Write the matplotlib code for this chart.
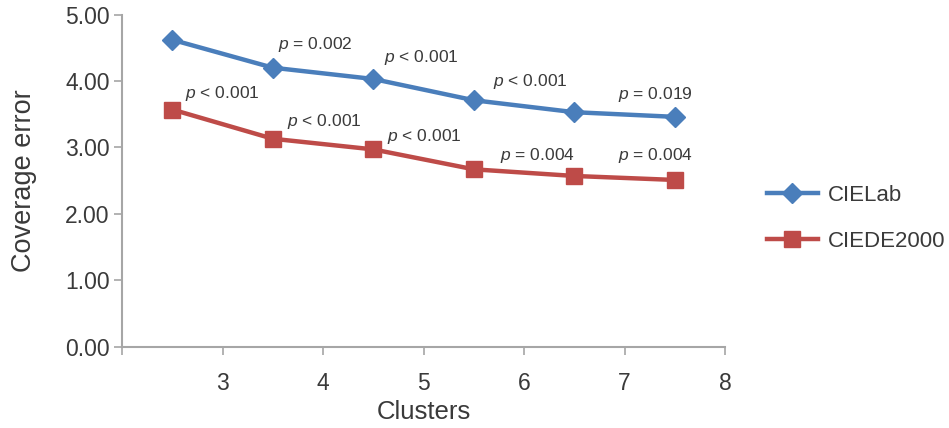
import matplotlib
matplotlib.use('Agg')
from matplotlib import pyplot as plt

clusters = [2.5, 3.5, 4.5, 5.5, 6.5, 7.5]
cielab = [4.62, 4.20, 4.03, 3.71, 3.53, 3.46]
ciede2000 = [3.57, 3.13, 2.97, 2.67, 2.57, 2.51]

# p-value labels: (index into series, text)
cielab_p = [(1, '= 0.002'), (2, '< 0.001'), (3, '< 0.001'), (5, '= 0.019')]
ciede_p = [(0, '< 0.001'), (1, '< 0.001'), (2, '< 0.001'), (4, '= 0.004'), (5, '= 0.004')]
# label offsets in pixels (left edge / center, above the point)
cielab_off = [(5, 23, 'left'), (11, 21, 'left'), (19, 19, 'left'), (-19, 22, 'center')]
ciede_off = [(13, 16, 'left'), (14, 17, 'left'), (14, 13, 'left'), (-37, 20, 'center'), (-19, 24, 'center')]

plt.rcParams['font.family'] = ['Liberation Sans', 'DejaVu Sans']
plt.rcParams['mathtext.fontset'] = 'custom'
plt.rcParams['mathtext.it'] = 'Liberation Sans:italic'
plt.rcParams['mathtext.rm'] = 'Liberation Sans'

txt = '#3a3a3a'
axc = '#a6a6a6'
blue = '#4a7ebb'
red = '#be4b48'

fig = plt.figure(figsize=(9.49, 4.28), dpi=100)
ax = fig.add_axes([0.1286, 0.19, 0.6354, 0.776])

l1, = ax.plot(clusters, cielab, color=blue, lw=3.2, marker='D', ms=10, label='CIELab')
l2, = ax.plot(clusters, ciede2000, color=red, lw=3.2, marker='s', ms=12, label='CIEDE2000')

for (i, s), (dx, dy, ha) in zip(cielab_p, cielab_off):
    ax.annotate('$p$ ' + s, xy=(clusters[i], cielab[i]), xytext=(dx, dy),
                textcoords='offset pixels', ha=ha, va='center', fontsize=12.5, color=txt)
for (i, s), (dx, dy, ha) in zip(ciede_p, ciede_off):
    ax.annotate('$p$ ' + s, xy=(clusters[i], ciede2000[i]), xytext=(dx, dy),
                textcoords='offset pixels', ha=ha, va='center', fontsize=12.5, color=txt)

ax.set_xlim(2, 8)
ax.set_ylim(0, 5)
ax.set_xticks([2, 3, 4, 5, 6, 7, 8])
ax.set_xticklabels(['', '3', '4', '5', '6', '7', '8'])
ax.set_yticks([0, 1, 2, 3, 4, 5])
ax.set_yticklabels(['%.2f' % v for v in [0, 1, 2, 3, 4, 5]])
ax.tick_params(direction='out', length=6, width=1.2, color=axc, labelsize=16.5,
               labelcolor=txt, pad=3)
ax.tick_params(axis='x', pad=12)
for side in ['top', 'right']:
    ax.spines[side].set_visible(False)
for side in ['left', 'bottom']:
    ax.spines[side].set_color(axc)
    ax.spines[side].set_linewidth(1.5)

ax.set_xlabel('Clusters', fontsize=18.5, color=txt, labelpad=4)
ax.set_ylabel('Coverage error', fontsize=19.5, color=txt, labelpad=20)

fig.legend(handles=[l1, l2], loc='center left', bbox_to_anchor=(0.808, 0.49),
           frameon=False, fontsize=16, handlelength=2.3, labelspacing=1.1,
           handletextpad=0.45, labelcolor=txt, borderaxespad=0, borderpad=0)

fig.savefig('out.png', dpi=100)
